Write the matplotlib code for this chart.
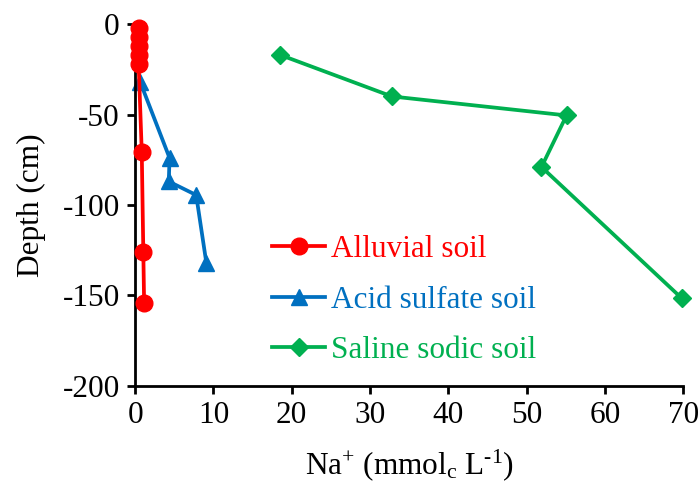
import matplotlib; matplotlib.use('Agg')
import matplotlib.pyplot as plt

plt.rcParams['font.family'] = ['Liberation Serif', 'DejaVu Serif']
plt.rcParams['mathtext.fontset'] = 'custom'
plt.rcParams['mathtext.rm'] = 'Liberation Serif'
plt.rcParams['mathtext.it'] = 'Liberation Serif:italic'
plt.rcParams['axes.unicode_minus'] = False

# Na+ (mmolc/L) vs depth (cm)
alluvial_na = [0.45, 0.45, 0.45, 0.45, 0.45, 0.85, 1.05, 1.15]
alluvial_depth = [-2, -7, -12, -17, -22, -70.5, -126, -154]

acid_na = [0.65, 4.4, 4.3, 7.8, 9.1]
acid_depth = [-32, -74, -87, -94.5, -132]

saline_na = [18.5, 32.8, 55.1, 51.9, 69.8]
saline_depth = [-17, -40, -50.5, -79, -151.5]
saline_err = [0.3, 0.3, 0.5, 0.3, 0.6]

RED, BLUE, GREEN = '#FF0000', '#0070C0', '#00B050'
FS = 22.5

fig = plt.figure(figsize=(7, 4.91), dpi=100)
ax = fig.add_axes([0.193, 0.214, 0.783, 0.737])

ax.errorbar(saline_na, saline_depth, xerr=saline_err, fmt='none', ecolor='black',
            elinewidth=1, capsize=2, zorder=1, clip_on=False)
ax.plot(alluvial_na, alluvial_depth, '-o', color=RED, lw=2.7, ms=12,
        label='Alluvial soil', zorder=3, clip_on=False)
ax.plot(acid_na, acid_depth, '-^', color=BLUE, lw=2.7, ms=11,
        label='Acid sulfate soil', zorder=2, clip_on=False)
ax.plot(saline_na, saline_depth, '-D', color=GREEN, lw=2.7, ms=9.5,
        label='Saline sodic soil', zorder=2, clip_on=False)

ax.set_xlim(0, 70); ax.set_ylim(-200, 0)
ax.set_xticks(range(0, 71, 10)); ax.set_yticks(range(-200, 1, 50))
for s in ['top', 'right']:
    ax.spines[s].set_visible(False)
for s in ['left', 'bottom']:
    ax.spines[s].set_linewidth(2)
ax.tick_params(width=2, length=6, labelsize=FS, direction='out', pad=5)

ax.set_ylabel('Depth (cm)', fontsize=FS, labelpad=12)
ax.set_xlabel(r'Na$^{+}$ (mmol$_{\mathrm{c}}$ L$^{\text{-1}}$)', fontsize=FS, labelpad=12)

leg = ax.legend(loc='center left', bbox_to_anchor=(272 / 700, 1 - 300 / 491),
                bbox_transform=fig.transFigure, frameon=False, fontsize=FS,
                handlelength=1.7, labelspacing=0.7, handletextpad=0.2,
                borderpad=0, borderaxespad=0)
for txt, c in zip(leg.get_texts(), [RED, BLUE, GREEN]):
    txt.set_color(c)

fig.savefig('out.png', dpi=100)
